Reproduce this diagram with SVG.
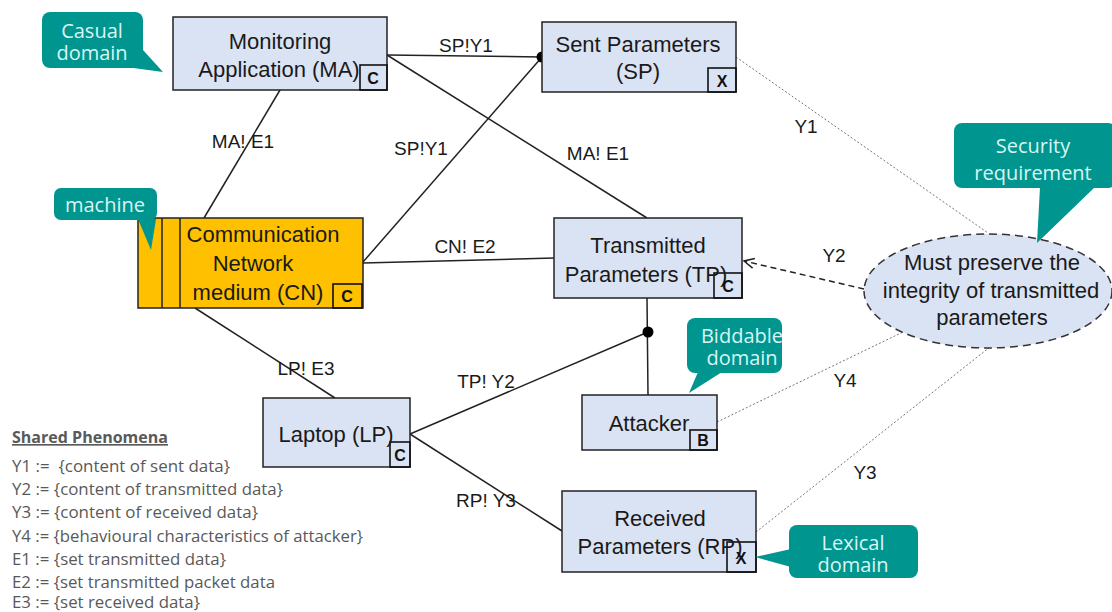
<svg xmlns="http://www.w3.org/2000/svg" width="1112" height="612" viewBox="0 0 1112 612">
<style>
.box{fill:#dae3f3;stroke:#222;stroke-width:1.5}
.cn{fill:#ffc000;stroke:#222;stroke-width:1.5}
.tag{fill:none;stroke:#111;stroke-width:1.6}
.nt{font-family:"Liberation Sans",Arial,sans-serif;font-size:22px;fill:#1a1a1a;text-anchor:middle}
.tt{font-family:"Liberation Sans",Arial,sans-serif;font-size:16px;font-weight:bold;fill:#111;text-anchor:middle}
.lbl{font-family:"Liberation Sans",Arial,sans-serif;font-size:19px;fill:#1a1a1a;text-anchor:middle}
.ln{stroke:#222;stroke-width:1.5;fill:none}
.dot{stroke:#777;stroke-width:1;stroke-dasharray:2,2;fill:none}
.co{fill:#00958f}
.ct{font-family:"Open Sans","Noto Sans",sans-serif;font-size:20px;fill:#d9f6f3;text-anchor:middle}
.lg{font-family:"Open Sans","Noto Sans",sans-serif;font-size:16.5px;fill:#595959}
</style>
<defs>
<marker id="open" markerWidth="14" markerHeight="14" refX="11" refY="6" orient="auto" markerUnits="userSpaceOnUse">
<path d="M1,1 L11,6 L1,11" fill="none" stroke="#222" stroke-width="1.5"/>
</marker>
</defs>
<g id="connectors">
<line class="ln" x1="387" y1="55" x2="542" y2="57"/>
<line class="ln" x1="387" y1="55" x2="647" y2="218"/>
<line class="ln" x1="363" y1="262" x2="542" y2="57"/>
<line class="ln" x1="363" y1="263" x2="554" y2="258"/>
<line class="ln" x1="280" y1="90" x2="204" y2="218"/>
<line class="ln" x1="195" y1="308" x2="335" y2="398"/>
<line class="ln" x1="647" y1="298" x2="648" y2="395"/>
<line class="ln" x1="410" y1="434" x2="648" y2="332"/>
<line class="ln" x1="410" y1="434" x2="562" y2="531"/>
<circle cx="542" cy="57" r="5.5" fill="#000"/>
<circle cx="648" cy="332" r="5.5" fill="#000"/>
<line class="dot" x1="736" y1="57" x2="988" y2="233"/>
<line class="dot" x1="717" y1="422" x2="903" y2="332"/>
<line class="dot" x1="756" y1="532" x2="990" y2="347"/>
<line x1="864" y1="289" x2="744" y2="261" stroke="#222" stroke-width="1.5" stroke-dasharray="6,4" marker-end="url(#open)"/>
<text class="lbl" x="466" y="52">SP!Y1</text>
<text class="lbl" x="598" y="160">MA! E1</text>
<text class="lbl" x="421" y="155">SP!Y1</text>
<text class="lbl" x="465" y="253">CN! E2</text>
<text class="lbl" x="243" y="148">MA! E1</text>
<text class="lbl" x="306" y="375">LP! E3</text>
<text class="lbl" x="486" y="388">TP! Y2</text>
<text class="lbl" x="486" y="507">RP! Y3</text>
<text class="lbl" x="806" y="133">Y1</text>
<text class="lbl" x="834" y="262">Y2</text>
<text class="lbl" x="845" y="387">Y4</text>
<text class="lbl" x="865" y="479">Y3</text>
</g>
<g id="MA">
<rect class="box" x="173" y="17" width="214" height="73"/>
<rect class="tag" x="360" y="65" width="27" height="25"/>
<text class="nt" x="280" y="49">Monitoring</text>
<text class="nt" x="279" y="77">Application (MA)</text>
<text class="tt" x="373" y="84">C</text>
</g>
<g id="SP">
<rect class="box" x="542" y="22" width="194" height="70"/>
<rect class="tag" x="708" y="68" width="28" height="24"/>
<text class="nt" x="638" y="52">Sent Parameters</text>
<text class="nt" x="638" y="79">(SP)</text>
<text class="tt" x="722" y="87">X</text>
</g>
<g id="CN">
<rect class="cn" x="138" y="218" width="225" height="90"/>
<line class="ln" x1="162" y1="218" x2="162" y2="308"/>
<line class="ln" x1="180" y1="218" x2="180" y2="308"/>
<rect class="tag" x="333" y="284" width="29" height="24" stroke-width="2"/>
<text class="nt" x="263" y="242">Communication</text>
<text class="nt" x="253" y="271">Network</text>
<text class="nt" x="258" y="300">medium (CN)</text>
<text class="tt" x="347" y="302">C</text>
</g>
<g id="TP">
<rect class="box" x="554" y="218" width="188" height="80"/>
<rect class="tag" x="714" y="273" width="28" height="25"/>
<text class="nt" x="648" y="253">Transmitted</text>
<text class="nt" x="646" y="282">Parameters (TP)</text>
<text class="tt" x="728" y="292">C</text>
</g>
<g id="LP">
<rect class="box" x="263" y="398" width="147" height="69"/>
<rect class="tag" x="390" y="442" width="20" height="25"/>
<text class="nt" x="336" y="442">Laptop (LP)</text>
<text class="tt" x="400" y="461">C</text>
</g>
<g id="Attacker">
<rect class="box" x="582" y="395" width="135" height="55"/>
<rect class="tag" x="690" y="430" width="27" height="20"/>
<text class="nt" x="649" y="431">Attacker</text>
<text class="tt" x="703" y="446">B</text>
</g>
<g id="RP">
<rect class="box" x="562" y="491" width="194" height="81"/>
<rect class="tag" x="727" y="542" width="29" height="30"/>
<text class="nt" x="660" y="526">Received</text>
<text class="nt" x="660" y="554">Parameters (RP)</text>
<text class="tt" x="741" y="564">X</text>
</g>
<g id="requirement">
<ellipse cx="988" cy="291" rx="124" ry="57" fill="#dae3f3" stroke="#333" stroke-width="1.5" stroke-dasharray="8,5"/>
<text class="nt" x="992" y="270">Must preserve the</text>
<text class="nt" x="991" y="298">integrity of transmitted</text>
<text class="nt" x="992" y="325">parameters</text>
</g>
<g id="callout-casual">
<rect class="co" x="42" y="12" width="101" height="56" rx="8"/>
<polygon class="co" points="126,67 143,50 163,72"/>
<text class="ct" x="92" y="38">Casual</text>
<text class="ct" x="92" y="60">domain</text>
</g>
<g id="callout-machine">
<rect class="co" x="54" y="188" width="103" height="32" rx="7"/>
<polygon class="co" points="138,219 156,219 151,250"/>
<text class="ct" x="105" y="212">machine</text>
</g>
<g id="callout-security">
<rect class="co" x="954" y="123" width="162" height="65" rx="8"/>
<polygon class="co" points="1040,187 1095,187 1037,243"/>
<text class="ct" x="1033" y="153">Security</text>
<text class="ct" x="1033" y="180">requirement</text>
</g>
<g id="callout-biddable">
<rect class="co" x="687" y="318" width="95" height="55" rx="8"/>
<polygon class="co" points="698,372 722,372 689,393"/>
<text class="ct" x="742" y="343">Biddable</text>
<text class="ct" x="742" y="365">domain</text>
</g>
<g id="callout-lexical">
<rect class="co" x="789" y="525" width="129" height="53" rx="8"/>
<polygon class="co" points="791,549 791,567 755,557"/>
<text class="ct" x="853" y="550">Lexical</text>
<text class="ct" x="853" y="572">domain</text>
</g>
<g id="legend">
<text class="lg" x="12" y="443" font-weight="bold" text-decoration="underline" textLength="156" lengthAdjust="spacingAndGlyphs">Shared Phenomena</text>
<text class="lg" x="12" y="472" textLength="218" lengthAdjust="spacingAndGlyphs" xml:space="preserve">Y1 :=  {content of sent data}</text>
<text class="lg" x="12" y="495" textLength="271" lengthAdjust="spacingAndGlyphs">Y2 := {content of transmitted data}</text>
<text class="lg" x="12" y="518" textLength="246" lengthAdjust="spacingAndGlyphs">Y3 := {content of received data}</text>
<text class="lg" x="12" y="542" textLength="351" lengthAdjust="spacingAndGlyphs">Y4 := {behavioural characteristics of attacker}</text>
<text class="lg" x="12" y="565" textLength="214" lengthAdjust="spacingAndGlyphs">E1 := {set transmitted data}</text>
<text class="lg" x="12" y="588" textLength="263" lengthAdjust="spacingAndGlyphs">E2 := {set transmitted packet data</text>
<text class="lg" x="12" y="608" textLength="188" lengthAdjust="spacingAndGlyphs">E3 := {set received data}</text>
</g>
</svg>
